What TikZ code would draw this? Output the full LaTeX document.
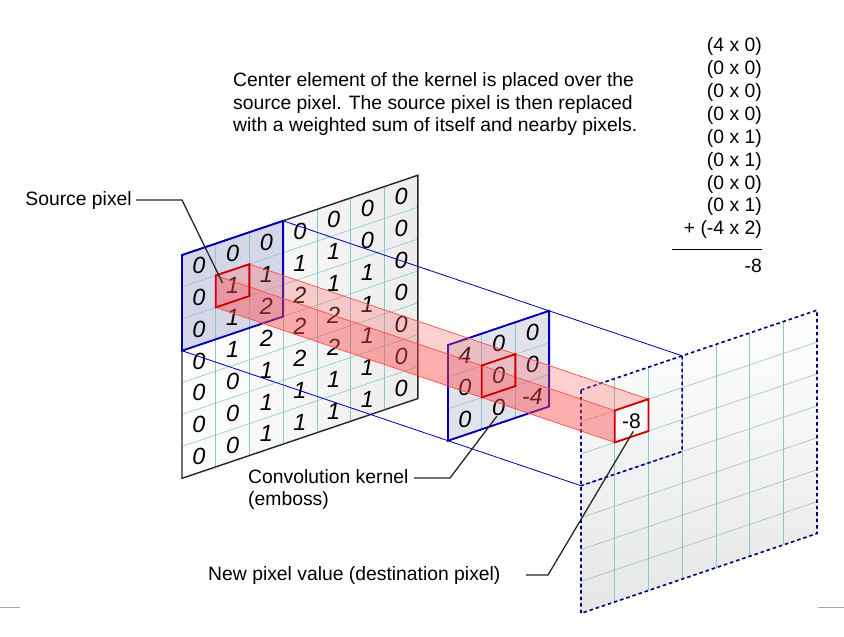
\documentclass[tikz,border=0pt]{standalone}
\usepackage{fontspec}
\setmainfont{Liberation Sans}
\begin{document}
\begin{tikzpicture}[x=0.03cm, y=-0.03cm]
    % Stili
    \tikzstyle{label}=[inner sep=0pt, font=\fontsize{16.5}{18.8}\selectfont, align=left]
    \tikzstyle{digit}=[inner sep=0pt, font=\fontsize{20}{20}\selectfont\itshape]
    \tikzstyle{leader}=[black!85, line width=1.1pt]
    \tikzstyle{cellgrid}=[teal!45, line width=0.5pt]
    \tikzstyle{frame}=[blue!65!black, line width=0.7pt]
    \tikzstyle{redbox}=[red!80!black, line width=1.6pt]
    \useasboundingbox (0,0) rectangle (844,636);
    \fill[white] (0,0) rectangle (844,636);
    \draw[gray!70] (0,607) -- (20,607);
    \draw[gray!70] (818,607) -- (844,607);

    % Testo in alto
    \node[label, anchor=west] (expl) at (233,104) {Center element of the kernel is placed over the\\source pixel. The source pixel is then replaced\\with a weighted sum of itself and nearby pixels.};
    \node[label, anchor=north east, align=right, font=\fontsize{16.5}{19.6}\selectfont] (sum) at (762,37) {(4 x 0)\\(0 x 0)\\(0 x 0)\\(0 x 0)\\(0 x 1)\\(0 x 1)\\(0 x 0)\\(0 x 1)\\+ (-4 x 2)};
    \node[label, anchor=east] (res) at (762,266) {-8};
    \coordinate (sumL) at (672,249);
    \coordinate (sumR) at (762,249);
    \draw[black, line width=0.8pt] (sumL) -- (sumR);

    \begin{scope}[shift={(5.46cm,-7.65cm)}, x={(1.011cm,0.342cm)}, y={(0cm,-0.957cm)}, z={(3.99cm,-1.35cm)}]
        % Immagine sorgente
        \shade[left color=white, right color=gray!15] (0,0,0) -- (7,0,0) -- (7,7,0) -- (0,7,0) -- cycle;
        \fill[blue!30!gray!25] (0,0,0) -- (3,0,0) -- (3,3,0) -- (0,3,0) -- cycle;
        \foreach \k in {1,...,6} {
            \draw[cellgrid] (\k,0,0) -- (\k,7,0);
            \draw[cellgrid] (0,\k,0) -- (7,\k,0);
        }
        \draw[black!85, line width=1.2pt] (0,0,0) -- (7,0,0) -- (7,7,0) -- (0,7,0) -- cycle;
        \draw[blue!70!black, line width=1.6pt] (0,0,0) -- (3,0,0) -- (3,3,0) -- (0,3,0) -- cycle;
        \foreach \row [count=\j from 0] in {{0,0,0,0,0,0,0},{0,1,1,1,1,0,0},{0,1,2,2,1,1,0},{0,1,2,2,2,1,0},{0,0,1,2,2,1,0},{0,0,1,1,1,1,0},{0,0,1,1,1,1,0}}
            \foreach \v [count=\i from 0] in \row
                \node[digit] (s\i\j) at (\i+.5,\j+.5,0) {\v};

        % Linee di proiezione
        \coordinate (tr0) at (3,0,0);
        \coordinate (tr3) at (3,0,3);
        \coordinate (bl0) at (0,3,0);
        \coordinate (bl3) at (0,3,3);
        \draw[frame] (tr0) -- (tr3);
        \draw[frame] (bl0) -- (bl3);

        % Kernel
        \fill[blue!25!gray!20, opacity=0.9] (0,0,2) -- (3,0,2) -- (3,3,2) -- (0,3,2) -- cycle;
        \foreach \k in {1,2} {
            \draw[cellgrid] (\k,0,2) -- (\k,3,2);
            \draw[cellgrid] (0,\k,2) -- (3,\k,2);
        }
        \draw[blue!70!black, line width=1.6pt] (0,0,2) -- (3,0,2) -- (3,3,2) -- (0,3,2) -- cycle;
        \foreach \row [count=\j from 0] in {{4,0,0},{0,0,0},{0,0,-4}}
            \foreach \v [count=\i from 0] in \row
                \node[digit] (k\i\j) at (\i+.5,\j+.5,2) {\v};

        % Immagine destinazione
        \shade[top color=white, bottom color=gray!20] (0,0,3) -- (7,0,3) -- (7,7,3) -- (0,7,3) -- cycle;
        \foreach \k in {1,...,6} {
            \draw[cellgrid] (\k,0,3) -- (\k,7,3);
            \draw[cellgrid] (0,\k,3) -- (7,\k,3);
        }
        \draw[blue!50!black, line width=1.4pt, dash pattern=on 3pt off 2.5pt] (0,0,3) -- (7,0,3) -- (7,7,3) -- (0,7,3) -- cycle;
        \draw[blue!50!black, line width=1.4pt, dash pattern=on 3pt off 2.5pt] (3,0,3) -- (3,3,3) -- (0,3,3);

        % Fascio rosso
        \fill[red!60, opacity=0.3] (1,1,0) -- (2,1,0) -- (2,1,3) -- (1,1,3) -- cycle;
        \fill[red!70, opacity=0.45] (1,1,0) -- (1,2,0) -- (1,2,3) -- (1,1,3) -- cycle;
        \draw[red!70, line width=0.6pt] (2,1,0) -- (2,1,3);
        \draw[red!70, line width=0.6pt] (1,1,0) -- (1,1,3);
        \draw[red!70, line width=0.6pt] (1,2,0) -- (1,2,3);
        \fill[white, opacity=0.6] (1,1,3) -- (2,1,3) -- (2,2,3) -- (1,2,3) -- cycle;
        \draw[redbox] (1,1,0) -- (2,1,0) -- (2,2,0) -- (1,2,0) -- cycle;
        \draw[redbox] (1,1,2) -- (2,1,2) -- (2,2,2) -- (1,2,2) -- cycle;
        \draw[redbox] (1,1,3) -- (2,1,3) -- (2,2,3) -- (1,2,3) -- cycle;
        \node[digit, font=\fontsize{18}{18}\selectfont] (dst) at (1.5,1.5,3) {-8};

        \coordinate (srcpix) at (1.2,1.3,0);
        \coordinate (kerpix) at (1.45,2.75,2);
        \coordinate (dstpix) at (1.55,1.85,3);
    \end{scope}

    % Etichette con linee guida
    \node[label, anchor=east] (srclab) at (132,200) {Source pixel};
    \coordinate (srcknee) at (182,200);
    \draw[leader] (srclab.east) ++(4,0) -- (srcknee) -- (srcpix);

    \node[label, anchor=west] (kerlab) at (248,489) {Convolution kernel\\(emboss)};
    \coordinate (kerknee) at (450,478);
    \coordinate (kerstart) at (414,478);
    \draw[leader] (kerstart) -- (kerknee) -- (kerpix);

    \node[label, anchor=west] (dstlab) at (208,575) {New pixel value (destination pixel)};
    \coordinate (dststart) at (526,575);
    \coordinate (dstknee) at (548,575);
    \draw[leader] (dststart) -- (dstknee) -- (dstpix);
\end{tikzpicture}
\end{document}
